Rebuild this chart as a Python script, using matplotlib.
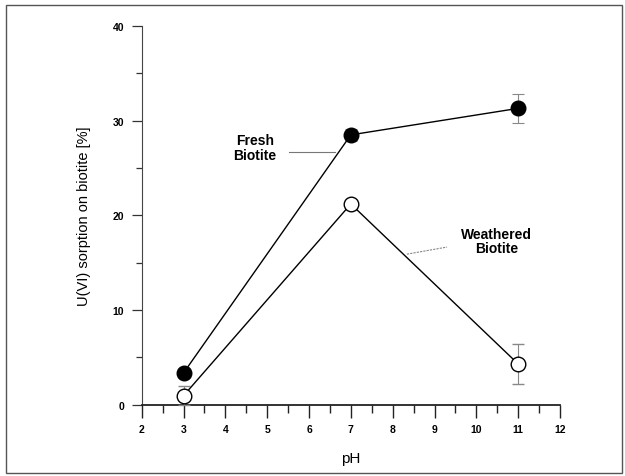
import matplotlib
matplotlib.use("Agg")
import matplotlib.pyplot as plt
from matplotlib.patches import Rectangle

plt.rcParams['font.family'] = ['Liberation Sans', 'DejaVu Sans']

ph = [3, 7, 11]
fresh = [3.35, 28.5, 31.3]
fresh_err = [0.3, 0.6, 1.5]
weathered = [0.95, 21.2, 4.3]
weathered_err = [1.0, 0.3, 2.1]
xticks = [2, 3, 4, 5, 6, 7, 8, 9, 10, 11, 12]
yticks = [0, 10, 20, 30, 40]

fig = plt.figure(figsize=(6.25, 4.77), dpi=100)
fig.patches.append(Rectangle((6/625, 1-474/477), 616/625, 468/477,
                             transform=fig.transFigure, fill=False,
                             edgecolor='#555555', linewidth=1.0))

ax = fig.add_axes([0.2267, 0.1495, 0.896-0.2267, 0.9434-0.1495])
ax.set_xlim(2, 12)
ax.set_ylim(0, 40)

ax.errorbar(ph, fresh, yerr=fresh_err, color='black', linewidth=1.0,
            marker='o', markersize=10.5, markerfacecolor='black',
            markeredgecolor='black', ecolor='#888888', elinewidth=0.8,
            capsize=4, capthick=0.8, clip_on=False, zorder=3)
ax.errorbar(ph, weathered, yerr=weathered_err, color='black', linewidth=1.0,
            marker='o', markersize=10.5, markerfacecolor='white',
            markeredgecolor='black', markeredgewidth=1.0, ecolor='#888888',
            elinewidth=0.8, capsize=4, capthick=0.8, clip_on=False, zorder=3)

for s in ['top', 'right']:
    ax.spines[s].set_visible(False)
ax.spines['left'].set_color('#444444')
ax.spines['left'].set_linewidth(0.8)
ax.spines['bottom'].set_color('#222222')
ax.spines['bottom'].set_linewidth(1.3)

ax.set_xticks(xticks)
ax.set_xticks([x + 0.5 for x in xticks[:-1]], minor=True)
ax.set_yticks(yticks)
ax.set_yticks([5, 15, 25, 35], minor=True)
ax.tick_params(axis='x', which='major', direction='out', length=9, width=1.0,
               labelsize=7.5, pad=5, colors='#222222')
ax.tick_params(axis='x', which='minor', direction='out', length=5.5, width=1.0,
               colors='#222222')
ax.tick_params(axis='y', which='major', direction='out', length=7.5, width=0.9,
               labelsize=7.5, pad=5, colors='#333333')
ax.tick_params(axis='y', which='minor', direction='out', length=4, width=0.9,
               colors='#333333')
for lab in ax.get_xticklabels() + ax.get_yticklabels():
    lab.set_fontweight('bold')
    lab.set_color('black')

ax.set_xlabel('pH', fontsize=11, labelpad=12)
ax.set_ylabel('U(VI) sorption on biotite [%]', fontsize=10.5, labelpad=16)

ax.text(4.71, 27.15, 'Fresh\nBiotite', ha='center', va='center',
        fontsize=10, fontweight='bold', linespacing=1.05)
ax.plot([5.52, 6.62], [26.7, 26.7], color='#777777', linewidth=0.8)
ax.text(10.48, 17.3, 'Weathered\nBiotite', ha='center', va='center',
        fontsize=10, fontweight='bold', linespacing=1.05)
ax.plot([8.34, 9.30], [15.9, 16.65], color='#888888', linewidth=0.8,
        linestyle=(0, (2, 1)))

fig.savefig('out.png', dpi=100)
